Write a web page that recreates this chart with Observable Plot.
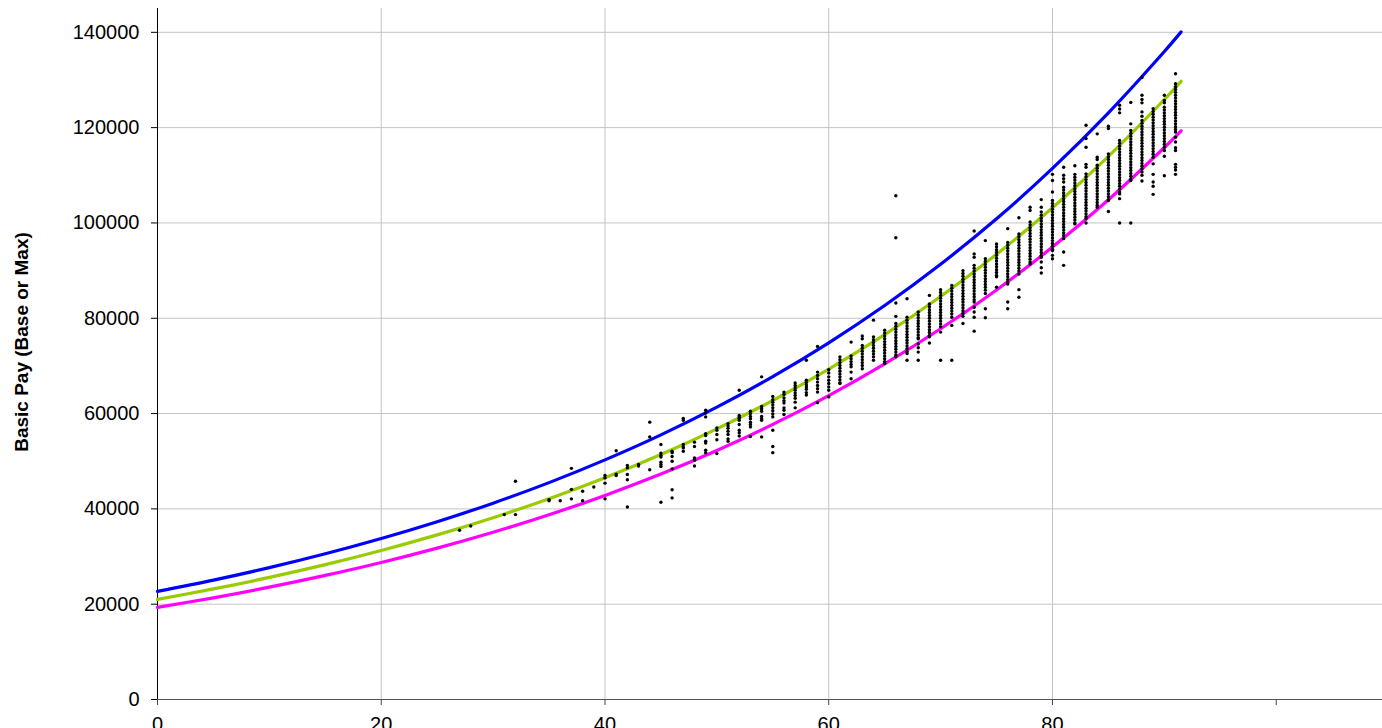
<!DOCTYPE html>
<html>
<head>
<meta charset="utf-8">
<script src="https://cdn.jsdelivr.net/npm/d3@7"></script>
<script src="https://cdn.jsdelivr.net/npm/@observablehq/plot@0.6"></script>
<style>
  html, body { margin: 0; padding: 0; background: #fff; overflow: hidden; }
  #chart svg { display: block; }
</style>
</head>
<body>
<div id="chart"></div>
<script>
// ---- Axis ticks ----
const yTicks = [0, 20000, 40000, 60000, 80000, 100000, 120000, 140000];
const xTicks = [0, 20, 40, 60, 80, 100];
const xGridTicks = [20, 40, 60, 80];
const yLabel = "Basic Pay (Base or Max)";

// ---- Reference curves ----
const curveX = [0, 5, 10, 15, 20, 25, 30, 35, 40, 45, 50, 55, 60, 65, 70, 75, 80, 85, 90, 91.5];
const bluePay = [22680, 25050, 27670, 30570, 33770, 37300, 41200, 45510, 50280, 55530, 61340, 67760, 74850, 82680, 91330, 100880, 111440, 123100, 135970, 140090];
const greenPay = [21000, 23200, 25620, 28300, 31270, 34540, 38150, 42140, 46550, 51420, 56800, 62740, 69310, 76550, 84560, 93410, 103180, 113980, 125900, 129720];
const magentaPay = [19320, 21340, 23570, 26040, 28760, 31770, 35100, 38770, 42830, 47310, 52260, 57720, 63760, 70430, 77800, 85940, 94930, 104860, 115830, 119340];

// ---- Individual observations: x position and pay values (in thousands) ----
const dotX = [27, 28, 31, 32, 35, 36, 37, 38, 39, 40, 41, 42, 43, 44, 45, 46, 47, 48, 49, 50,
  51, 52, 53, 54, 55, 56, 57, 58, 59, 60, 61, 62, 63, 64, 65, 66, 67, 68, 69, 70,
  71, 72, 73, 74, 75, 76, 77, 78, 79, 80, 81, 82, 83, 84, 85, 86, 87, 88, 89, 90, 91];
const dotPayK = [
  [35.5],
  [36.4],
  [38.8],
  [38.8, 45.8],
  [41.7, 41.9],
  [41.7],
  [48.5, 44.1, 42.1],
  [43.7, 41.7],
  [44.6],
  [47.0, 46.5, 45.4, 42.1],
  [52.2, 47.3, 47.0],
  [49.1, 48.6, 47.2, 46.1, 40.4],
  [49.3, 49.0],
  [58.2, 55.1, 48.2],
  [53.5, 51.7, 51.2, 50.9, 49.8, 49.3, 48.9, 41.4],
  [52.1, 51.8, 51.0, 50.0, 48.4, 44.0, 42.3],
  [59.0, 58.6, 53.5, 53.0, 52.8, 52.1],
  [54.0, 53.1, 50.7, 50.2, 49.0],
  [60.7, 60.1, 59.3, 55.8, 55.4, 54.2, 53.8, 52.3, 51.8],
  [57.0, 56.5, 55.6, 54.5, 51.6],
  [57.9, 57.4, 56.9, 56.3, 55.6, 54.7, 54.2],
  [64.9, 59.6, 59.3, 59.0, 58.6, 57.7, 56.5, 56.0, 55.3],
  [60.5, 60.0, 59.4, 58.9, 58.2, 57.7, 57.2, 55.2],
  [67.7, 61.5, 61.0, 60.5, 59.4, 58.9, 58.6, 55.1],
  [63.6, 62.9, 62.4, 61.8, 61.2, 60.6, 59.9, 59.3, 56.5, 53.1, 51.8],
  [64.5, 64.0, 63.3, 62.7, 62.2, 61.2, 60.7, 59.8],
  [66.4, 65.9, 65.4, 64.9, 64.3, 63.8, 63.2, 62.4, 61.2],
  [71.2, 67.0, 66.5, 66.0, 65.6, 65.1, 64.4, 63.9],
  [74.1, 68.7, 68.0, 67.3, 66.6, 65.9, 65.2, 64.5, 62.3],
  [69.2, 68.5, 67.7, 67.0, 66.3, 65.6, 64.9, 63.5],
  [71.9, 71.3, 70.7, 70.1, 69.5, 68.9, 68.3, 67.7, 67.1, 66.5, 66.3],
  [75.0, 72.1, 71.5, 70.9, 70.3, 69.8, 68.7, 67.3],
  [76.3, 75.7, 74.3, 73.7, 73.1, 72.5, 71.9, 71.3, 70.7, 70.1, 69.4],
  [79.6, 76.1, 75.5, 74.9, 74.3, 73.7, 73.1, 72.5, 71.9, 71.2],
  [77.5, 76.9, 76.3, 75.7, 75.1, 74.5, 73.9, 73.3, 72.7, 72.1, 71.5, 70.9, 70.5],
  [105.7, 96.9, 83.2, 80.4, 78.9, 78.3, 77.7, 77.1, 76.5, 75.9, 75.3, 74.7, 74.1, 73.5, 72.9, 72.3, 71.9],
  [84.1, 80.2, 79.6, 79.0, 78.4, 77.8, 77.2, 76.6, 76.0, 75.4, 74.8, 74.2, 73.6, 73.0, 72.6, 71.2],
  [81.3, 80.7, 80.1, 79.5, 78.9, 78.3, 77.7, 77.1, 76.5, 75.9, 75.7, 74.6, 73.8, 72.9, 71.2],
  [84.8, 83.0, 82.4, 81.8, 81.2, 80.6, 80.0, 79.4, 78.8, 78.2, 77.6, 77.0, 76.4, 76.1, 74.8],
  [86.0, 85.4, 84.8, 84.2, 83.6, 83.0, 82.4, 81.8, 81.2, 80.6, 80.0, 79.4, 78.8, 78.2, 77.1, 71.2],
  [86.9, 86.3, 85.7, 85.1, 84.5, 83.9, 83.3, 82.7, 82.1, 81.5, 80.9, 80.2, 78.5, 71.2],
  [90.0, 89.4, 88.8, 88.2, 87.6, 87.0, 86.4, 85.8, 85.2, 84.6, 84.0, 83.4, 82.8, 82.2, 81.6, 81.0, 80.4, 78.9],
  [98.3, 93.5, 92.8, 91.1, 90.5, 89.9, 89.3, 88.7, 88.1, 87.5, 86.9, 86.3, 85.7, 85.1, 84.5, 83.9, 83.4, 82.3, 81.3, 80.2, 77.3],
  [96.3, 92.5, 91.9, 91.3, 90.7, 90.1, 89.5, 88.9, 88.3, 87.7, 87.1, 86.5, 85.9, 85.2, 82.0, 80.1],
  [95.6, 95.0, 94.4, 93.8, 93.2, 92.6, 92.0, 91.4, 90.8, 90.2, 89.6, 89.0, 88.7, 86.5],
  [98.8, 95.9, 95.3, 94.7, 94.1, 93.5, 92.9, 92.3, 91.7, 91.1, 90.5, 89.9, 89.3, 88.7, 88.1, 87.5, 87.2, 83.4, 82.0],
  [101.1, 97.7, 97.1, 96.5, 95.9, 95.3, 94.7, 94.1, 93.5, 92.9, 92.3, 91.7, 91.1, 90.5, 89.9, 89.3, 86.0, 84.4],
  [103.3, 102.6, 100.2, 99.6, 99.0, 98.4, 97.8, 97.2, 96.6, 96.0, 95.4, 94.8, 94.2, 93.6, 93.0, 92.4, 91.8, 91.4],
  [104.9, 103.3, 102.3, 101.6, 101.0, 100.4, 99.8, 99.2, 98.6, 98.0, 97.4, 96.8, 96.2, 95.6, 95.0, 94.4, 93.8, 93.2, 92.8, 91.8, 90.6, 89.5],
  [110.2, 108.9, 106.5, 104.7, 104.1, 103.5, 102.9, 102.3, 101.7, 101.1, 100.5, 99.9, 99.3, 98.7, 98.1, 97.5, 96.9, 96.3, 95.7, 95.1, 94.5, 94.2, 93.2, 92.5],
  [111.7, 110.0, 109.3, 108.6, 107.5, 106.9, 106.3, 105.7, 105.1, 104.5, 103.9, 103.3, 102.7, 102.1, 101.5, 100.9, 100.3, 99.7, 99.1, 98.5, 97.9, 97.3, 96.7, 93.9, 91.1],
  [112.0, 110.2, 109.6, 109.0, 108.4, 107.8, 107.2, 106.6, 106.0, 105.4, 104.8, 104.2, 103.6, 103.0, 102.4, 101.8, 101.2, 100.6, 100.0, 99.8],
  [120.5, 117.7, 115.9, 112.3, 111.7, 110.3, 109.7, 109.1, 108.5, 107.9, 107.3, 106.7, 106.1, 105.5, 104.9, 104.3, 103.7, 103.1, 102.5, 101.9, 101.3, 100.9, 100.0],
  [118.7, 113.8, 113.3, 112.1, 111.5, 110.9, 110.3, 109.7, 109.1, 108.5, 107.9, 107.3, 106.7, 106.1, 105.5, 104.9, 104.3, 103.7, 103.3],
  [120.3, 119.8, 114.5, 113.9, 113.3, 112.7, 112.1, 111.5, 110.9, 110.3, 109.7, 109.1, 108.5, 107.9, 107.3, 106.7, 106.1, 105.5, 104.9, 104.7, 102.4],
  [124.7, 123.9, 123.1, 117.3, 116.7, 116.1, 115.5, 114.9, 114.3, 113.7, 113.1, 112.5, 111.9, 111.3, 110.7, 110.1, 109.5, 108.9, 108.3, 107.7, 107.1, 106.5, 106.1, 105.1, 100.0],
  [125.3, 120.8, 119.4, 118.8, 118.2, 117.6, 117.0, 116.4, 115.8, 115.2, 114.6, 114.0, 113.4, 112.8, 112.2, 111.6, 111.0, 110.4, 109.8, 109.2, 108.9, 100.0],
  [130.5, 126.8, 125.9, 125.2, 123.3, 122.4, 121.5, 120.9, 120.3, 119.7, 119.1, 118.5, 117.9, 117.3, 116.7, 116.1, 115.5, 114.9, 114.3, 113.7, 113.1, 112.5, 111.9, 111.3, 110.7, 110.0, 108.8],
  [124.0, 123.4, 122.8, 122.2, 121.6, 121.0, 120.4, 119.8, 119.2, 118.6, 118.0, 117.4, 116.8, 116.2, 115.6, 115.0, 114.4, 113.8, 112.4, 110.2, 108.6, 107.7, 106.0],
  [126.8, 125.7, 125.2, 124.3, 123.7, 123.1, 122.5, 121.9, 121.3, 120.7, 120.1, 119.5, 118.9, 118.3, 117.7, 117.1, 116.5, 115.9, 115.2, 114.0, 109.9],
  [131.3, 129.2, 128.6, 128.0, 127.4, 126.8, 126.2, 125.6, 125.0, 124.4, 123.8, 123.2, 122.6, 122.0, 121.4, 120.8, 120.2, 119.6, 119.1, 118.0, 117.0, 115.8, 115.2, 112.3, 111.7, 111.1, 110.2]
];

// ---- Tables built from the arrays ----
const dots = dotX.flatMap((x, i) => dotPayK[i].map(k => ({x, pay: k * 1000})));
const curveRows = (vals) => curveX.map((x, i) => ({x, pay: vals[i]}));

const chart = Plot.plot({
  width: 1382,
  height: 728,
  marginLeft: 157,
  marginRight: 0,
  marginTop: 8,
  marginBottom: 29,
  style: {fontFamily: "'Liberation Sans', Arial, sans-serif", fontSize: "20px", color: "#000", background: "#fff"},
  x: {domain: [0, 109.5]},
  y: {domain: [0, 145000]},
  marks: [
    Plot.gridY(yTicks, {stroke: "#c4c4c4", strokeOpacity: 1}),
    Plot.gridX(xGridTicks, {stroke: "#c4c4c4", strokeOpacity: 1}),
    Plot.axisY(yTicks, {tickSize: 6, tickPadding: 12, label: null, tickFormat: d => String(d), fontSize: 20}),
    Plot.axisX(xTicks, {tickSize: 6, tickPadding: 11, label: null, tickFormat: d => d === 100 ? "" : String(d), fontSize: 20, stroke: "#444"}),
    Plot.ruleY([0], {stroke: "#555"}),
    Plot.ruleX([0], {stroke: "#000"}),
    Plot.line(curveRows(bluePay), {x: "x", y: "pay", stroke: "#0000ff", strokeWidth: 3.2, curve: "catmull-rom"}),
    Plot.line(curveRows(greenPay), {x: "x", y: "pay", stroke: "#99cc00", strokeWidth: 3.2, curve: "catmull-rom"}),
    Plot.line(curveRows(magentaPay), {x: "x", y: "pay", stroke: "#ff00ff", strokeWidth: 3.2, curve: "catmull-rom"}),
    Plot.dot(dots, {x: "x", y: "pay", r: 1.7, fill: "#000", stroke: "none"}),
    Plot.text([yLabel], {frameAnchor: "left", dx: -136, dy: -12, rotate: -90, fontWeight: "bold", fontSize: 19, textAnchor: "middle", fill: "#000"})
  ]
});
document.getElementById("chart").appendChild(chart);
</script>
</body>
</html>
